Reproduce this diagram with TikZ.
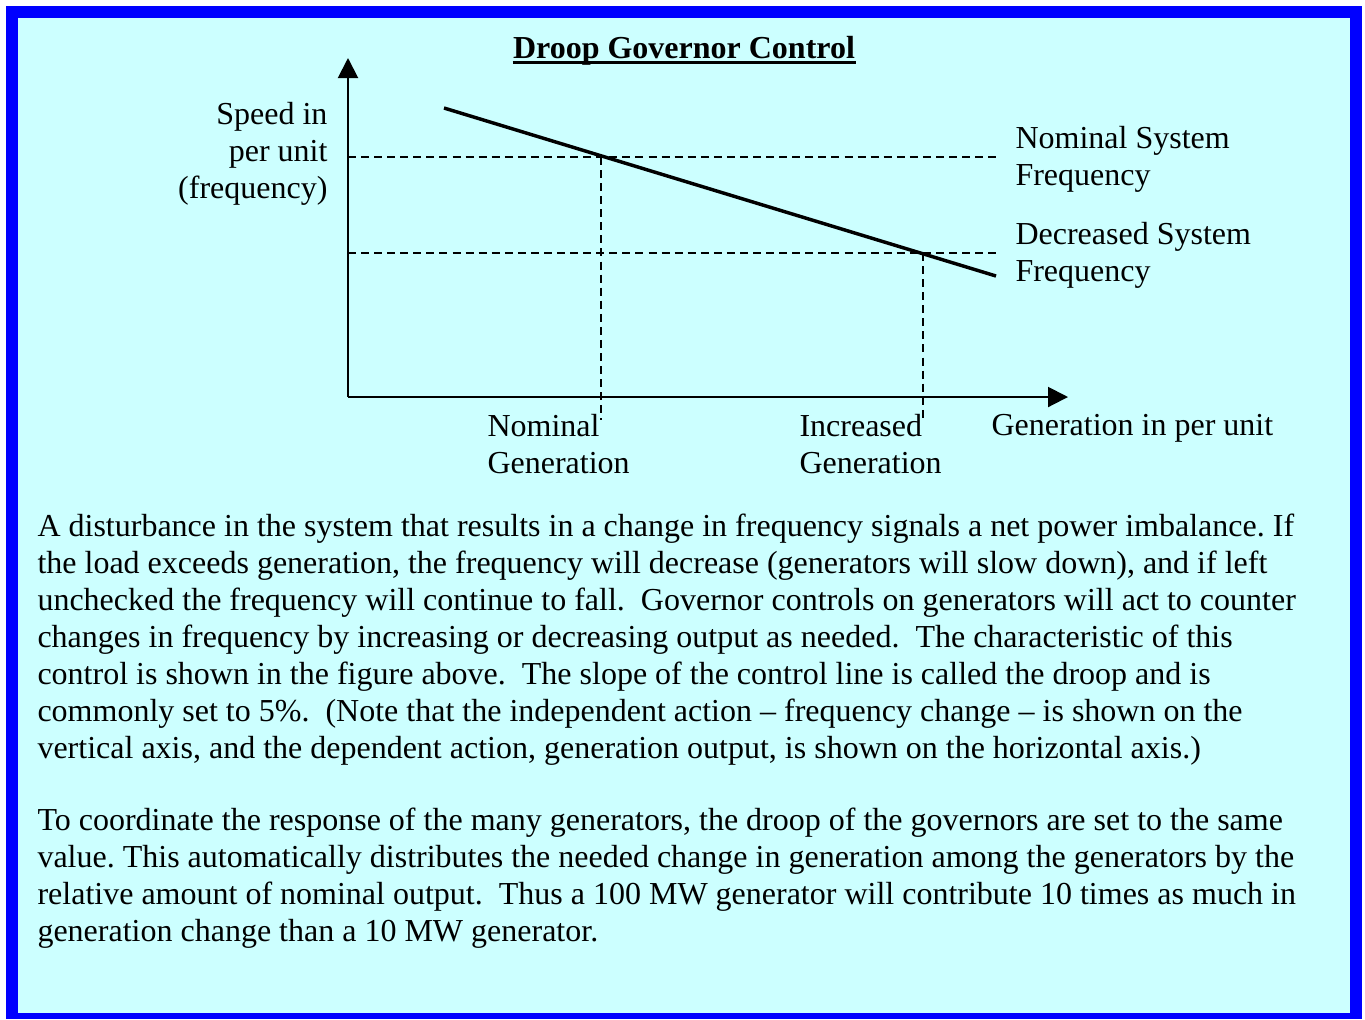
\documentclass[tikz,border=0pt]{standalone}
\usepackage{fontspec}
\setmainfont{Liberation Serif}
\usepackage{tikz}
\usetikzlibrary{arrows.meta}
\definecolor{panelbg}{RGB}{204,255,255}
\definecolor{framebl}{RGB}{0,0,255}
\frenchspacing

\tikzset{
	axis/.style={line width=0.75pt,-{Triangle[length=7.5pt,width=7.5pt]}},
	guide/.style={line width=0.55pt,dash pattern=on 3pt off 1.9pt},
	droopline/.style={line width=1.3pt},
	txt/.style={inner sep=0pt,font=\fontsize{12}{13.875}\selectfont},
}

\begin{document}
\begin{tikzpicture}[x=0.375pt,y=-0.375pt]
	\useasboundingbox (0,0) rectangle (1365,1019);
	\fill[white] (0,0) rectangle (1365,1019);
	\fill[framebl] (6,6) rectangle (1362,1019);
	\fill[panelbg] (18,18) rectangle (1350,1013);
	% title
	\node[txt,anchor=base,font=\fontsize{12}{13.875}\selectfont\bfseries] (title) at (684,58) {Droop Governor Control};
	\draw[line width=1.1pt] ([yshift=-1.6pt]title.base west) -- ([yshift=-1.6pt]title.base east);
	% axes and characteristic
	\coordinate (o) at (348,397);
	\coordinate (ytip) at (348,58);
	\coordinate (xtip) at (1068,397);
	\coordinate (nom) at (601,157);
	\coordinate (dec) at (923,253);
	\draw[axis] (o) -- (ytip);
	\draw[axis] (o) -- (xtip);
	\draw[guide] (348,157) -- (996,157);
	\draw[guide] (348,253) -- (996,253);
	\draw[guide] (nom) -- (601,420);
	\draw[guide] (dec) -- (923,420);
	\draw[droopline] (444,108) -- (996,276);
	% labels
	\node[txt,anchor=north east,align=right] (speed) at (328,102) {Speed in\\per unit\\(frequency)};
	\node[txt,anchor=north west,align=left] (nomfreq) at (1015,126) {Nominal System\\Frequency};
	\node[txt,anchor=north west,align=left] (decfreq) at (1015,222) {Decreased System\\Frequency};
	\node[txt,anchor=north west,align=left] (nomgen) at (487,414) {Nominal\\Generation};
	\node[txt,anchor=north west,align=left] (incgen) at (799,414) {Increased\\Generation};
	\node[txt,anchor=north west] (genpu) at (991,414) {Generation in per unit};
	% explanation
	\node[txt,anchor=north west,align=left] (para1) at (37,513) {A disturbance in the system that results in a change in frequency signals a net power imbalance. If\\
		the load exceeds generation, the frequency will decrease (generators will slow down), and if left\\
		unchecked the frequency will continue to fall.\ \ Governor controls on generators will act to counter\\
		changes in frequency by increasing or decreasing output as needed.\ \ The characteristic of this\\
		control is shown in the figure above.\ \ The slope of the control line is called the droop and is\\
		commonly set to 5\%.\ \ (Note that the independent action -- frequency change -- is shown on the\\
		vertical axis, and the dependent action, generation output, is shown on the horizontal axis.)};
	\node[txt,anchor=north west,align=left] (para2) at (37,807) {To coordinate the response of the many generators, the droop of the governors are set to the same\\
		value. This automatically distributes the needed change in generation among the generators by the\\
		relative amount of nominal output.\ \ Thus a 100 MW generator will contribute 10 times as much in\\
		generation change than a 10 MW generator.};
\end{tikzpicture}
\end{document}
